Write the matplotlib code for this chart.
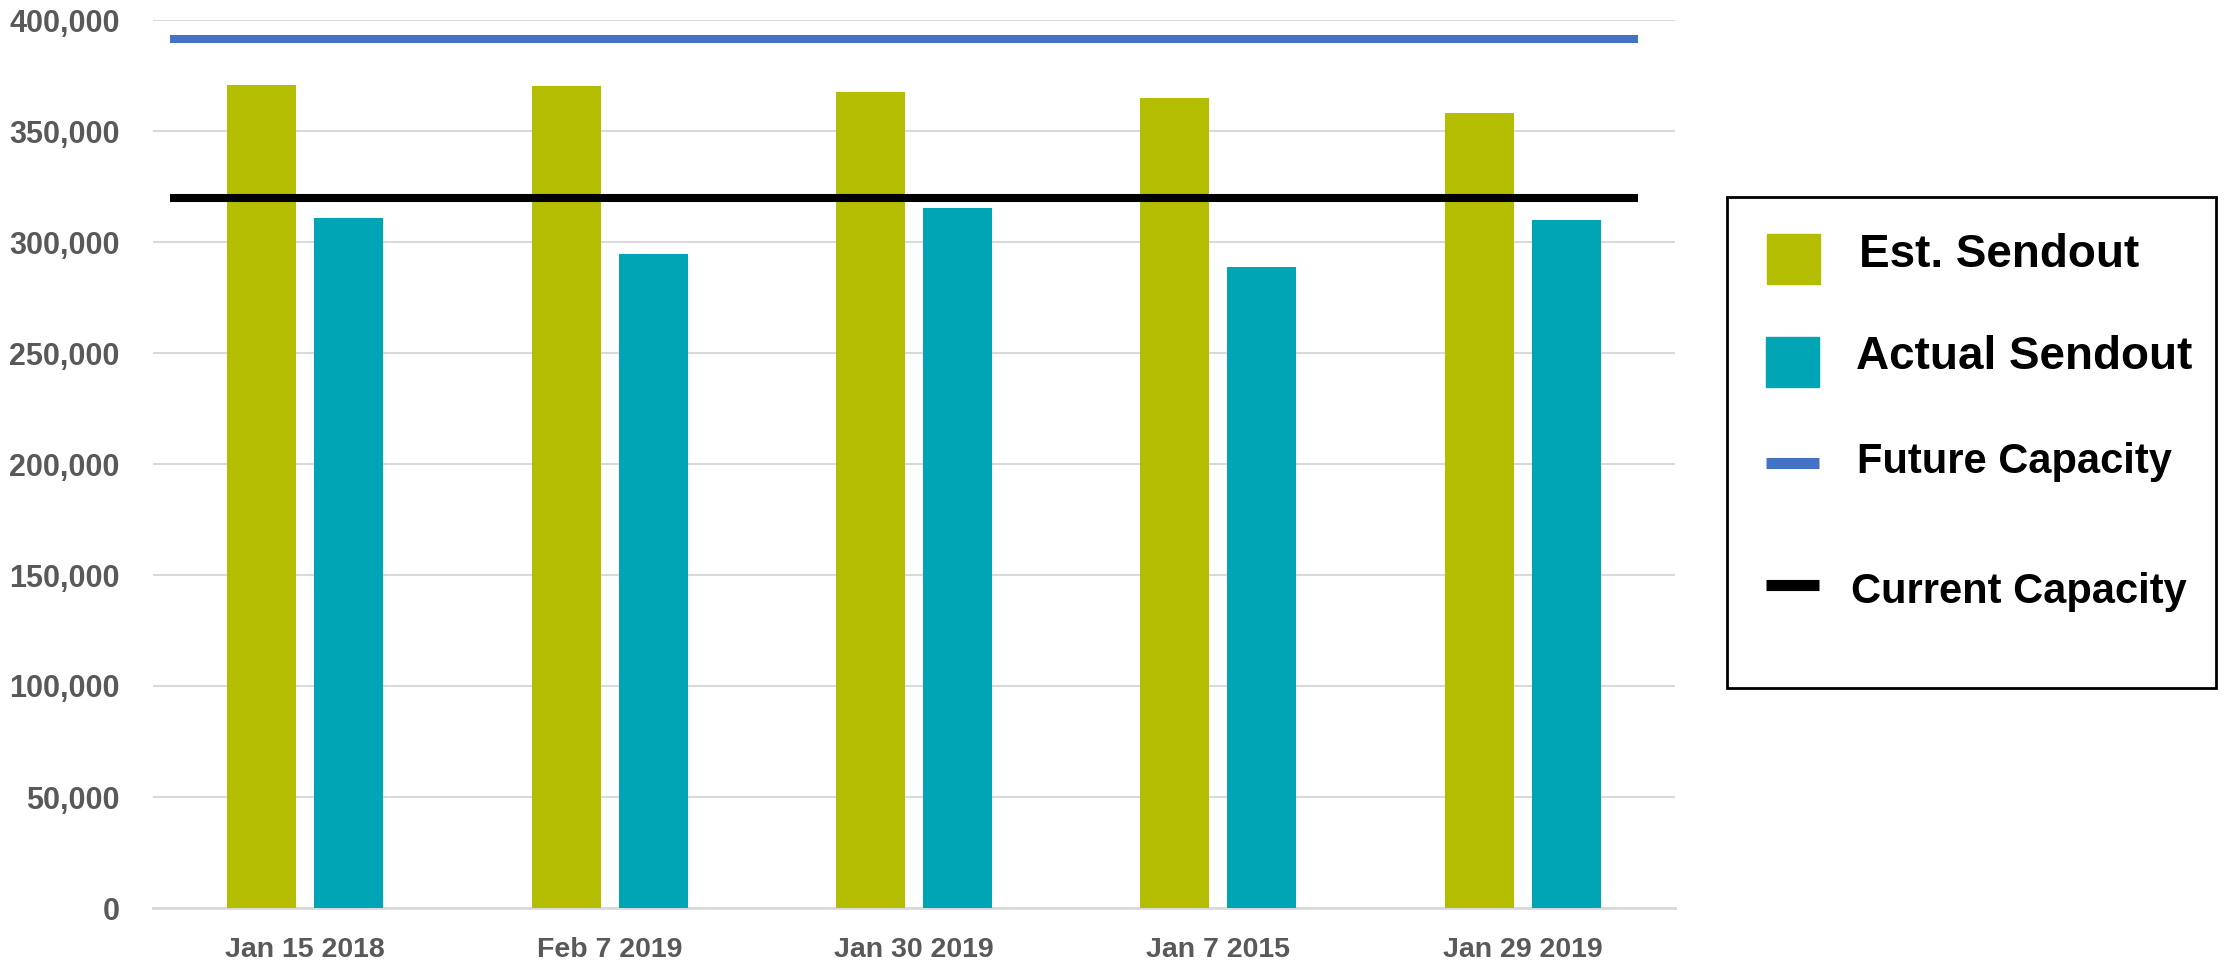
import numpy as np
import matplotlib.pyplot as plt
from matplotlib.patches import Rectangle
from matplotlib.lines import Line2D

# data
dates = ["Jan 15 2018", "Feb 7 2019", "Jan 30 2019", "Jan 7 2015", "Jan 29 2019"]
est_sendout = [370600, 370400, 367400, 364800, 358000]
actual_sendout = [310700, 294600, 315300, 288700, 310000]
future_capacity = 391500
current_capacity = 319700

c_est = "#B5BD00"
c_act = "#00A5B5"
c_future = "#4472C4"
c_current = "#000000"
grey = "#595959"

plt.rcParams["font.family"] = ["Liberation Sans", "DejaVu Sans"]

W, H = 2226, 966
fig = plt.figure(figsize=(W / 100, H / 100), dpi=100)
ax = fig.add_axes([153 / W, 1 - 908 / H, (1675 - 153) / W, (908 - 20) / H])

x = np.arange(len(dates))
bw = 0.227
ax.bar(x - 0.143, est_sendout, bw, color=c_est, zorder=3)
ax.bar(x + 0.143, actual_sendout, bw, color=c_act, zorder=3)

ax.axhline(future_capacity, xmin=0.011, xmax=0.976, color=c_future, lw=5.8, solid_capstyle="butt", zorder=4)
ax.axhline(current_capacity, xmin=0.011, xmax=0.976, color=c_current, lw=5.8, solid_capstyle="butt", zorder=4)

ax.set_xlim(-0.5, len(dates) - 0.5)
ax.set_ylim(0, 400000)
ax.set_yticks(np.arange(0, 400001, 50000))
ax.set_yticklabels([f"{v:,}" for v in range(0, 400001, 50000)])
ax.set_xticks(x)
ax.set_xticklabels(dates)
ax.yaxis.grid(True, color="#D9D9D9", lw=1.5, zorder=0)
ax.set_axisbelow(True)
for s in ["top", "right", "left"]:
    ax.spines[s].set_visible(False)
ax.spines["bottom"].set_color("#D9D9D9")
ax.spines["bottom"].set_linewidth(2)
ax.tick_params(axis="y", length=0, pad=24, labelsize=22, labelcolor=grey)
ax.tick_params(axis="x", length=0, pad=21, labelsize=20.5, labelcolor=grey)
for lab in ax.get_xticklabels() + ax.get_yticklabels():
    lab.set_fontweight("bold")

# legend drawn by hand to match the box layout
def fx(px):
    return px / W

def fy(py):
    return 1 - py / H

fig.add_artist(Rectangle((fx(1727), fy(688)), fx(2216 - 1727), (688 - 197) / H,
                         transform=fig.transFigure, fill=False, ec="black", lw=2))
fig.add_artist(Rectangle((fx(1767), fy(284)), fx(53), 50 / H, transform=fig.transFigure,
                         color=c_est))
fig.add_artist(Rectangle((fx(1766), fy(387)), fx(53), 50 / H, transform=fig.transFigure,
                         color=c_act))
fig.add_artist(Line2D([fx(1766), fx(1819)], [fy(463), fy(463)], transform=fig.transFigure,
                      color=c_future, lw=8, solid_capstyle="butt"))
fig.add_artist(Line2D([fx(1766), fx(1819)], [fy(585), fy(585)], transform=fig.transFigure,
                      color=c_current, lw=8, solid_capstyle="butt"))

fig.text(fx(1859), fy(267), "Est. Sendout", fontsize=33, fontweight="bold", va="baseline")
fig.text(fx(1856), fy(369), "Actual Sendout", fontsize=33, fontweight="bold", va="baseline")
fig.text(fx(1857), fy(473), "Future Capacity", fontsize=30, fontweight="bold", va="baseline")
fig.text(fx(1851), fy(603), "Current Capacity", fontsize=30, fontweight="bold", va="baseline")

fig.savefig("out.png", dpi=100)
